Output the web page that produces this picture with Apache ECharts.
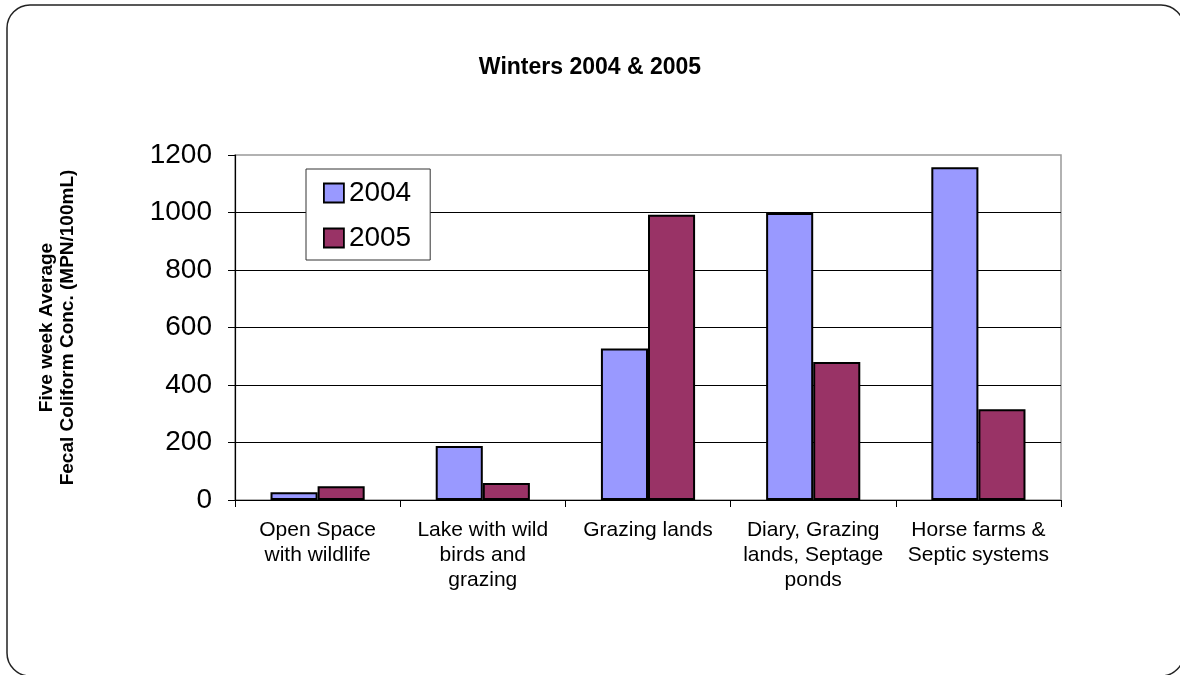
<!DOCTYPE html>
<html>
<head>
<meta charset="utf-8">
<script src="https://cdn.jsdelivr.net/npm/echarts@6/dist/echarts.min.js"></script>
<style>
html,body{margin:0;padding:0;background:#fff;}
#chart{width:1180px;height:675px;}
</style>
</head>
<body>
<div id="chart"></div>
<script>
const categories = [
  'Open Space\nwith wildlife',
  'Lake with wild\nbirds and\ngrazing',
  'Grazing lands',
  'Diary, Grazing\nlands, Septage\nponds',
  'Horse farms &\nSeptic systems'
];
const values2004 = [27, 188, 527, 998, 1157];
const values2005 = [48, 59, 992, 480, 316];
const yTicks = [0, 200, 400, 600, 800, 1000, 1200];
const titleText = 'Winters 2004 & 2005';
const yAxisName = 'Five week Average\nFecal Coliform Conc. (MPN/100mL)';

const font = '"Liberation Sans", Arial, sans-serif';
const chart = echarts.init(document.getElementById('chart'), null, {renderer: 'canvas'});
chart.setOption({
  animation: false,
  backgroundColor: '#fff',
  textStyle: {fontFamily: font},
  title: {
    text: titleText,
    left: 585, top: 51, textAlign: 'center',
    textStyle: {fontFamily: font, fontSize: 23, fontWeight: 'bold', color: '#000'}
  },
  graphic: [{
    type: 'rect', silent: true, z: 100,
    shape: {x: 7, y: 5, width: 1177, height: 671, r: 23},
    style: {fill: 'none', stroke: '#222', lineWidth: 1.5}
  }],
  legend: {
    orient: 'vertical',
    left: 306, top: 169,
    padding: [10, 19, 8, 17],
    itemWidth: 20, itemHeight: 19, itemGap: 17, itemTextGap: 8,
    backgroundColor: '#fff',
    borderColor: '#333', borderWidth: 1,
    icon: 'rect',
    itemStyle: {borderColor: '#000', borderWidth: 1.8},
    textStyle: {fontFamily: font, fontSize: 28, lineHeight: 28, color: '#000'},
    data: ['2004', '2005']
  },
  grid: {
    left: 235, right: 119, top: 155, bottom: 175,
    show: true, borderColor: '#999', borderWidth: 1.5, backgroundColor: 'transparent'
  },
  xAxis: {
    type: 'category',
    data: categories,
    axisLine: {show: true, lineStyle: {color: '#000', width: 1.2}},
    axisTick: {show: true, length: 7, lineStyle: {color: '#000'}},
    axisLabel: {
      fontFamily: font, fontSize: 21, lineHeight: 25, color: '#000',
      margin: 18, interval: 0
    },
    splitLine: {show: false}
  },
  yAxis: {
    type: 'value',
    min: yTicks[0], max: yTicks[yTicks.length - 1], interval: 200,
    name: yAxisName,
    nameLocation: 'middle', nameRotate: 90, nameGap: 157,
    nameTextStyle: {fontFamily: font, fontSize: 19, fontWeight: 'bold', lineHeight: 21, color: '#000', align: 'center'},
    axisLine: {show: true, lineStyle: {color: '#000', width: 1.2}},
    axisTick: {show: true, length: 7, lineStyle: {color: '#000'}},
    axisLabel: {fontFamily: font, fontSize: 28, color: '#000', margin: 23, formatter: function (v) { return String(v); }},
    splitLine: {show: true, showMaxLine: false, lineStyle: {color: '#000', width: 1}}
  },
  series: [
    {
      name: '2004', type: 'bar', data: values2004,
      barGap: '0%', barCategoryGap: '43%',
      itemStyle: {color: '#9999FF', borderColor: '#000', borderWidth: 2}
    },
    {
      name: '2005', type: 'bar', data: values2005,
      barGap: '0%', barCategoryGap: '43%',
      itemStyle: {color: '#993366', borderColor: '#000', borderWidth: 2}
    }
  ]
});
</script>
</body>
</html>
